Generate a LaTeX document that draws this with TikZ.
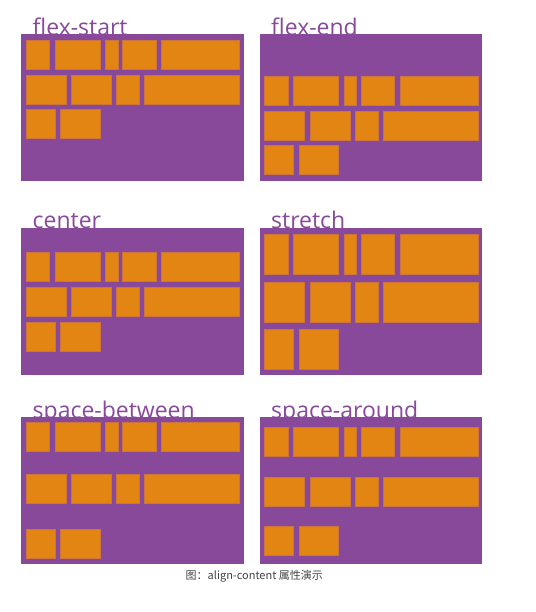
\documentclass[tikz,border=0pt]{standalone}
\usepackage{fontspec}
\setmainfont{Open Sans}
\newfontfamily\cjk{Noto Sans CJK SC}
\definecolor{fpurple}{RGB}{136,73,155}
\definecolor{forange}{RGB}{227,133,18}
\definecolor{fedge}{RGB}{205,115,60}
\definecolor{capgray}{RGB}{68,68,68}
\tikzset{
  ttl/.style={inner sep=0pt, text=fpurple, font=\fontsize{23}{27}\selectfont},
  panelbox/.style={fill=fpurple},
  itembox/.style={fill=forange, draw=fedge, line width=0.5pt},
  captxt/.style={inner sep=0pt, text=capgray, font=\cjk\fontsize{11}{13}\selectfont}
}
% #1 name, #2 x, #3 y, #4 title, #5 row1, #6 row2, #7 row3, #8 item height
\newcommand\flexdemo[8]{%
  \node[ttl, anchor=base west] (#1) at (#2+11.5, #3+1) {#4};
  \fill[panelbox] (#2,#3) rectangle ++(222.5,147);
  \foreach \a/\b in {5/28.5,34/79,84.5/97,101.5/135,140.5/218.5}
    \draw[itembox] (#2+\a,#3+#5) rectangle (#2+\b,#3+#5+#8);
  \foreach \a/\b in {5/45,50.5/90.5,95.5/118.5,123.5/218.5}
    \draw[itembox] (#2+\a,#3+#6) rectangle (#2+\b,#3+#6+#8);
  \foreach \a/\b in {5/34,39.5/79}
    \draw[itembox] (#2+\a,#3+#7) rectangle (#2+\b,#3+#7+#8);
}
\begin{document}
\begin{tikzpicture}[x=1pt,y=-1pt]
\useasboundingbox[fill=white] (0,0) rectangle (535,612);
\flexdemo{fs}{21}{34.3}{flex-start}{5.7}{40.5}{75.2}{29}
\flexdemo{fe}{259.5}{34.3}{flex-end}{42}{77}{111.4}{29}
\flexdemo{ce}{21}{228}{center}{24}{59}{94}{29}
\flexdemo{st}{259.5}{228}{stretch}{6}{54.3}{101.7}{40}
\flexdemo{sb}{21}{417}{space-between}{5.7}{57.7}{112.3}{29}
\flexdemo{sa}{259.5}{417}{space-around}{10}{60}{109.3}{29}
\node[captxt, anchor=west] (cap) at (185.5,576.7) {图：align-content 属性演示};
\end{tikzpicture}
\end{document}
